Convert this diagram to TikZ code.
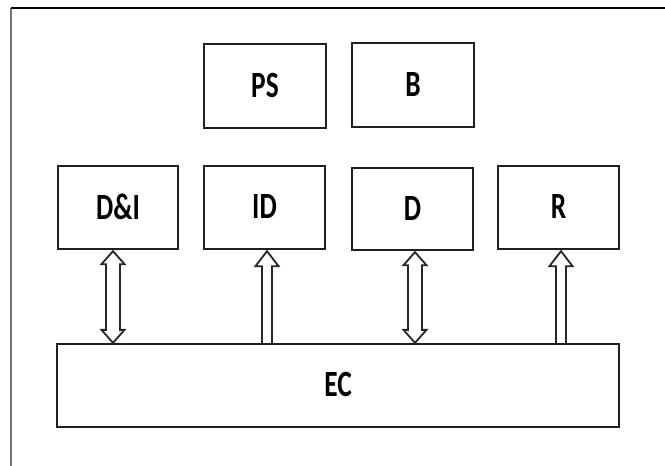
\documentclass[tikz,border=0pt]{standalone}
\usepackage{fontspec}
\setmainfont{Carlito}
\usetikzlibrary{calc}
\tikzset{
  box/.style={draw=black!88, line width=2.3pt, minimum width=#1, inner sep=0pt, font=\fontsize{37}{40}\selectfont\bfseries},
  arr/.style={draw=black!85, line width=1.8pt, fill=white, line join=miter},
}
\newcommand\mydblarrow[2]{%
  \draw[arr] (#1) -- ++(11.5,13) -- ++(-4.5,0) -- ($(#2)+(7,-13)$) -- ++(4.5,0) -- (#2)
    -- ++(-11.5,-13) -- ++(4.5,0) -- ($(#1)+(-7,13)$) -- ++(-4.5,0) -- cycle;}
\newcommand\mysglarrow[2]{%
  \draw[arr] ($(#2)+(-5,0)$) -- ($(#1)+(-5,15)$) -- ++(-6.5,0) -- (#1) -- ++(11.5,15) -- ++(-6.5,0) -- ($(#2)+(5,0)$);}
\newcommand\lbl[1]{\raisebox{1.5pt}{\scalebox{0.74}[1]{#1}}}
\begin{document}
\begin{tikzpicture}[x=1pt,y=-1pt]
\useasboundingbox (0,0) rectangle (665,466);
% frame
\coordinate (f1) at (11,466);
\coordinate (f2) at (11,8);
\coordinate (f3) at (665,8);
\draw[black!55, line width=1.3pt] (f1) -- (f2);
\draw[black, line width=1.3pt] (f2) -- (f3);
% boxes
\node[box=122pt, minimum height=84pt] (PS) at (265,86) {\lbl{PS}};
\node[box=122pt, minimum height=84pt] (B) at (413,85) {\lbl{B}};
\node[box=120pt, minimum height=83pt] (DI) at (118,207.5) {\lbl{D\&I}};
\node[box=121pt, minimum height=83pt] (ID) at (264.5,207.5) {\lbl{ID}};
\node[box=121pt, minimum height=82pt] (D) at (412.5,209) {\lbl{D}};
\node[box=121pt, minimum height=83pt] (R) at (558.5,207.5) {\lbl{R}};
\node[box=562pt, minimum height=83pt] (EC) at (338,385.5) {\lbl{EC}};
% arrow end points
\coordinate (a1t) at ($(DI.south)+(-5,1)$);
\coordinate (a1b) at (a1t |- EC.north);
\coordinate (a2t) at ($(ID.south)+(2.5,1)$);
\coordinate (a2b) at (a2t |- EC.north);
\coordinate (a3t) at ($(D.south)+(2.5,1)$);
\coordinate (a3b) at (a3t |- EC.north);
\coordinate (a4t) at ($(R.south)+(2.5,1)$);
\coordinate (a4b) at (a4t |- EC.north);
\mydblarrow{a1t}{a1b}
\mysglarrow{a2t}{a2b}
\mydblarrow{a3t}{a3b}
\mysglarrow{a4t}{a4b}
\end{tikzpicture}
\end{document}
